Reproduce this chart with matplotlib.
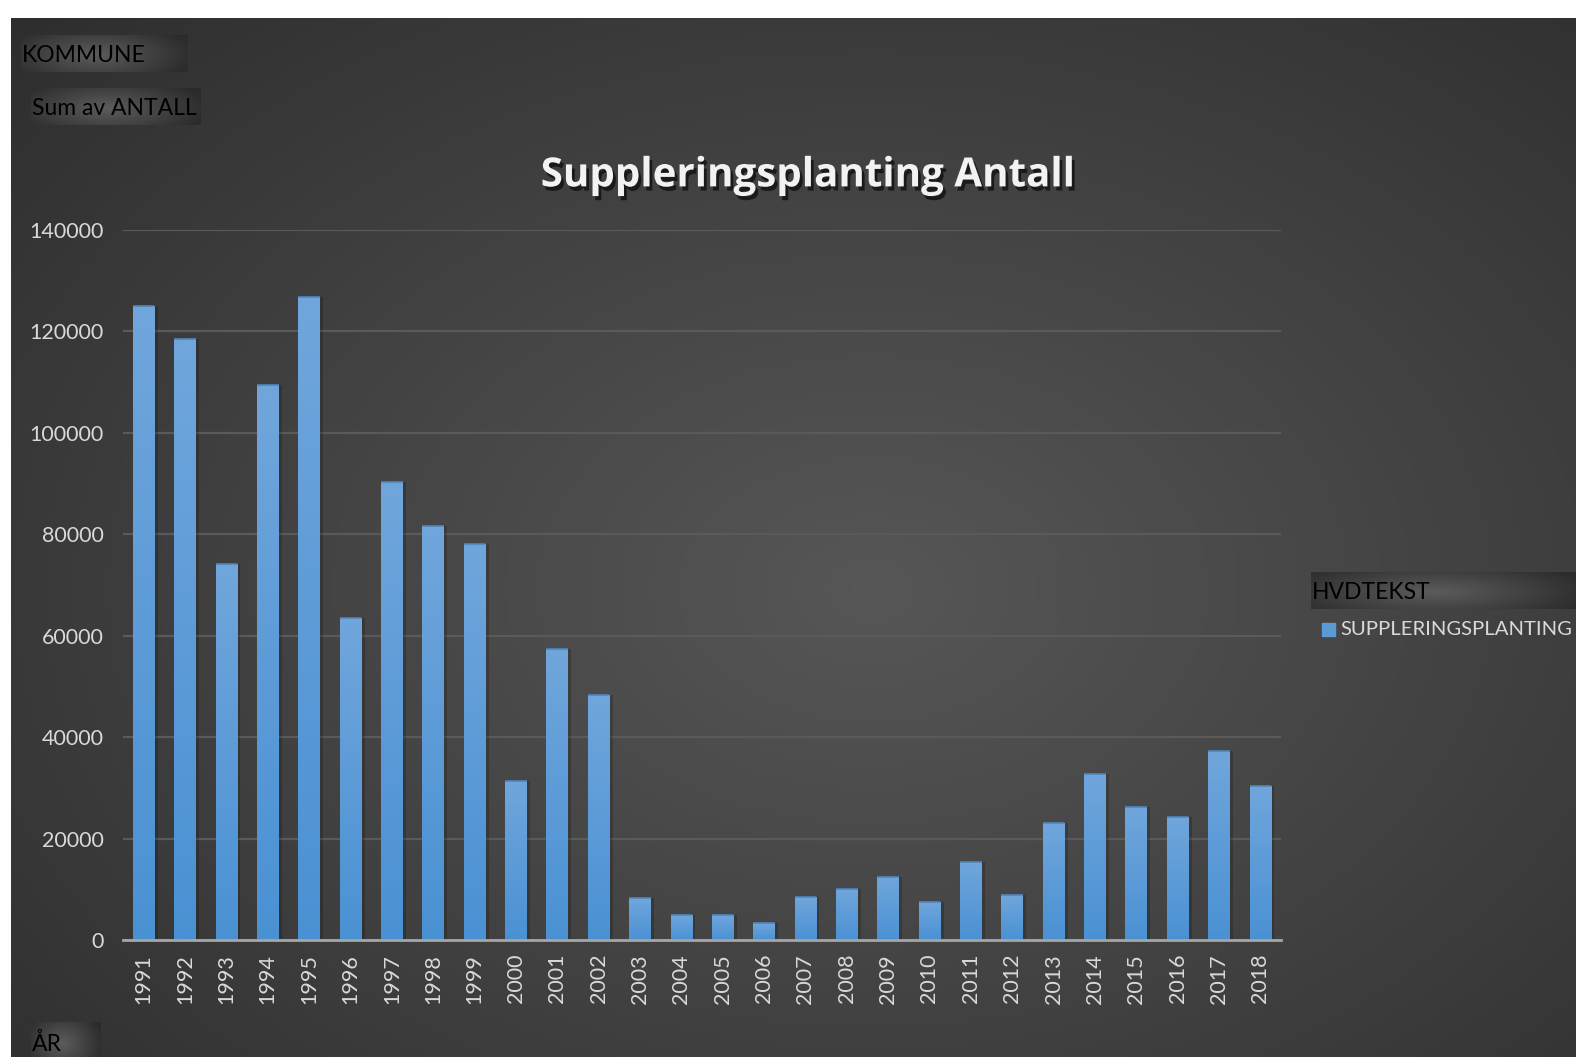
import matplotlib
matplotlib.use("Agg")
import matplotlib.pyplot as plt
import matplotlib.patheffects as pe
import numpy as np

plt.rcParams['font.family'] = ['Lato', 'DejaVu Sans']

years = [str(y) for y in range(1991, 2019)]
antall = [125000, 118500, 74200, 109500, 126800, 63400, 90300, 81700, 78100,
          31300, 57300, 48400, 8200, 4900, 4900, 3300, 8400, 10000, 12400,
          7400, 15400, 8800, 23000, 32700, 26200, 24300, 37200, 30400]
yticks = [0, 20000, 40000, 60000, 80000, 100000, 120000, 140000]

title = "Suppleringsplanting Antall"
legend_title = "HVDTEKST"
legend_label = "SUPPLERINGSPLANTING"

W, H = 1576, 1057
S = 1576 / 1568  # measured on the shrunk view
fig = plt.figure(figsize=(W / 100, H / 100), dpi=100)
fig.patch.set_facecolor("white")


def radial(nx, ny, cx, cy, sx, sy, inner, outer):
    xx, yy = np.meshgrid(np.linspace(0, 1, nx), np.linspace(0, 1, ny))
    d = np.sqrt(((xx - cx) / sx) ** 2 + ((yy - cy) / sy) ** 2)
    d = np.clip(d, 0, 1)
    inner = np.array(inner)
    outer = np.array(outer)
    return inner[None, None, :] * (1 - d[..., None]) + outer[None, None, :] * d[..., None]


# dark chart background
bg = fig.add_axes([11 / W, 0, 1 - 11 / W, 1 - 18 / H])
bg.set_axis_off()
img = radial(400, 300, 0.55, 0.55, 0.8, 0.85, (0.34, 0.34, 0.34), (0.17, 0.17, 0.17))
bg.imshow(img, aspect="auto", extent=[0, 1, 0, 1], origin="upper")
bg.set_xlim(0, 1)
bg.set_ylim(0, 1)


def button(x0, y0, x1, y1, label, fs, pad=1):
    x0, y0, x1, y1 = x0 * S, y0 * S, x1 * S, y1 * S
    a = fig.add_axes([x0 / W, 1 - y1 / H, (x1 - x0) / W, (y1 - y0) / H])
    a.set_axis_off()
    g = radial(200, 40, 0.45, 0.55, 0.6, 0.9, (0.36, 0.36, 0.36), (0.17, 0.17, 0.17))
    a.imshow(g, aspect="auto", extent=[0, 1, 0, 1])
    a.set_xlim(0, 1)
    a.set_ylim(0, 1)
    a.text(pad / (x1 - x0), 0.45, label, color="black", fontsize=fs,
           va="center", ha="left")


button(21, 35, 187, 72, "KOMMUNE", 16.5)
button(31, 88, 200, 124, "Sum av ANTALL", 16.5)
button(31, 1017, 100, 1057, "ÅR", 16.5)
button(1304, 569, 1576, 606, legend_title, 16.5)

# main axes
ax = fig.add_axes([123 / W, 1 - 940 / H, 1158 / W, 710 / H])
ax.set_facecolor("none")
x = np.arange(len(years))
bw = 0.52

# soft shadows
ax.bar(x + 0.08, antall, width=bw, color="black", alpha=0.18, zorder=2)
bars = ax.bar(x, antall, width=bw, color="#5b9bd5", zorder=3)

grad = np.linspace(0, 1, 256)[:, None]
cols = np.zeros((256, 1, 3))
top_c = np.array([0.44, 0.65, 0.86])
bot_c = np.array([0.29, 0.57, 0.83])
cols[:, 0, :] = top_c[None, :] * (1 - grad) + bot_c[None, :] * grad
for b in bars:
    bx, by = b.get_x(), b.get_y()
    im = ax.imshow(cols, aspect="auto", zorder=4,
                   extent=[bx, bx + b.get_width(), by, by + b.get_height()])
    im.set_clip_path(b)
    ax.plot([bx, bx + b.get_width()], [b.get_height(), b.get_height()],
            color="#4f86bd", lw=1.2, zorder=5, solid_capstyle="butt")

ax.set_xlim(-0.5, len(years) - 0.5)
ax.set_ylim(0, 140000)
ax.set_yticks(yticks)
ax.set_yticklabels([str(v) for v in yticks])
ax.set_xticks(x)
ax.set_xticklabels(years, rotation=90)
ax.yaxis.grid(True, color="#5a5a5a", lw=1.6, zorder=1)
ax.set_axisbelow(True)
for s in ["top", "right", "left"]:
    ax.spines[s].set_visible(False)
ax.spines["bottom"].set_color("#a6a6a6")
ax.spines["bottom"].set_linewidth(2)
ax.spines["bottom"].set_zorder(6)
ax.tick_params(axis="both", length=0, colors="#d9d9d9", labelsize=15.5)
ax.tick_params(axis="y", pad=14)
ax.tick_params(axis="x", pad=10)

fig.text(803 * S / W, 1 - 175 * S / H, title, color="#f2f2f2", fontsize=29,
         fontweight="bold", family=["Open Sans", "DejaVu Sans"],
         ha="center", va="center",
         path_effects=[pe.withSimplePatchShadow(offset=(2, -3), shadow_rgbFace="black", alpha=0.6)])

# legend entry
fig.patches.append(plt.Rectangle((1315 * S / W, 1 - 633 * S / H), 13 / W, 13 / H,
                                 transform=fig.transFigure, color="#5b9bd5", figure=fig))
fig.text(1334 * S / W, 1 - 626 * S / H, legend_label, color="#d9d9d9", fontsize=14.6,
         ha="left", va="center")

fig.savefig("out.png", dpi=100)
